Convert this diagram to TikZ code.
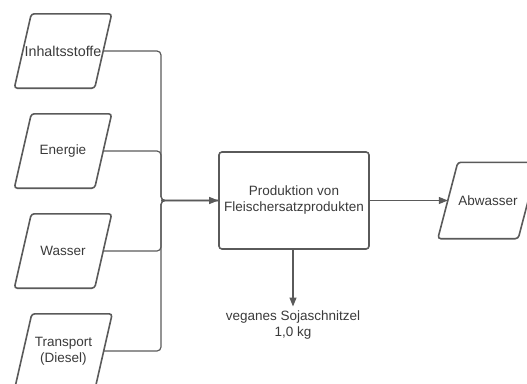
\documentclass[tikz,border=0pt]{standalone}
\usepackage{fontspec}
\setmainfont{Liberation Sans}
\usetikzlibrary{arrows.meta,calc}
\definecolor{ln}{HTML}{5A5A5A}
\definecolor{tx}{HTML}{3A3A3A}
\begin{document}
\begin{tikzpicture}[x=1pt,y=-1pt,
  every node/.style={text=tx,font=\fontsize{13.5}{16}\selectfont,align=center,inner sep=0pt},
  iobox/.style={minimum width=80pt,minimum height=74pt},
  ioline/.style={draw=ln,line width=1.6pt,rounded corners=3pt},
  procbox/.style={draw=ln,line width=1.6pt,rounded corners=3pt,minimum width=150pt,minimum height=97pt},
  conn/.style={draw=ln,line width=1.2pt,rounded corners=4pt},
  arr/.style={-{Triangle[length=9pt,width=7pt]}}]
\useasboundingbox (0,0) rectangle (527,383);
\clip (0,0) rectangle (527,383);
% input parallelograms
\node[iobox] (inh) at (63,51) {\fontsize{14.3}{16}\selectfont Inhaltsstoffe};
\node[iobox] (ene) at (63,151) {Energie};
\node[iobox] (was) at (63,251) {Wasser};
\node[iobox] (tra) at (63.5,351) {Transport\\(Diesel)};
\foreach \n in {inh,ene,was,tra}{
  \draw[ioline] ($(\n.south west)+(-8.5,0)$) -- ($(\n.north west)+(8.5,0)$)
    -- ($(\n.north east)+(8.5,0)$) -- ($(\n.south east)+(-8.5,0)$) -- cycle;
}
% process
\node[procbox] (proc) at (294,200.5) {Produktion von\\Fleischersatzprodukten};
% output
\node[minimum width=80pt,minimum height=76pt] (abw) at (488,200.5) {Abwasser};
\draw[ioline] ($(abw.south west)+(-10,0)$) -- ($(abw.north west)+(10,0)$)
  -- ($(abw.north east)+(10,0)$) -- ($(abw.south east)+(-10,0)$) -- cycle;
% product
\node (prod) at (293,325) {veganes Sojaschnitzel\\1,0 kg};
% bus
\coordinate (bus) at (161,200);
\foreach \n in {inh,ene,was,tra}{
  \draw[conn] (\n.east) -- (\n.east -| bus) -- (bus |- proc.west) -- (proc.west);
}
\draw[conn,arr] (bus |- proc.west) -- (proc.west);
\draw[conn,arr] (proc.east) -- (abw.west);
\draw[conn,arr] (proc.south -| prod.north) -- ($(prod.north)+(0,-4)$);
\end{tikzpicture}
\end{document}
